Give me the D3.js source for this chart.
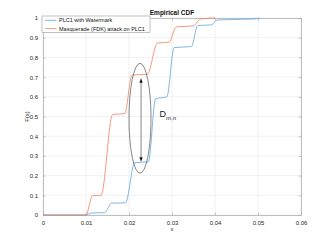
<!DOCTYPE html>
<html><head><meta charset="utf-8">
<script src="https://cdn.jsdelivr.net/npm/d3@7"></script>
<style>body{margin:0;background:#fff}svg{display:block;font-family:"Liberation Sans",Arial,sans-serif}</style>
</head><body><svg id="c" width="332" height="242"></svg>
<script>
const xTicks = [0, 0.01, 0.02, 0.03, 0.04, 0.05, 0.06];
const yTicks = [0, 0.1, 0.2, 0.3, 0.4, 0.5, 0.6, 0.7, 0.8, 0.9, 1];
const seriesNames = ["PLC1 with Watermark", "Masquerade (FDK) attack on PLC1"];
const blueX = [0, 0.0100, 0.0112, 0.0143, 0.0160, 0.0192, 0.0213, 0.0245, 0.0262, 0.0288, 0.0305, 0.0345, 0.0360, 0.0392, 0.0405, 0.0490, 0.0503];
const blueY = [0, 0, 0.010, 0.012, 0.060, 0.062, 0.265, 0.270, 0.590, 0.600, 0.850, 0.855, 0.962, 0.965, 0.990, 0.995, 1];
const orangeX = [0, 0.0100, 0.0115, 0.0135, 0.0162, 0.0190, 0.0207, 0.0243, 0.0266, 0.0293, 0.0310, 0.0350, 0.0366, 0.0400];
const orangeY = [0, 0, 0.098, 0.100, 0.510, 0.515, 0.710, 0.715, 0.873, 0.877, 0.955, 0.960, 0.995, 1];
const ellipse = {cx: 0.02256, cy: 0.491, rx: 0.00256, ry: 0.279};
const arrowX = 0.0228, arrowY = [0.27, 0.694];
const labelPos = [0.0271, 0.497];

const svg = d3.select("#c");
const L = 43, R = 301, T = 18, B = 215;
const x = d3.scaleLinear().domain([0, 0.06]).range([L, R]);
const y = d3.scaleLinear().domain([0, 1]).range([B, T]);

// grid
svg.append("g").selectAll("line").data(xTicks).join("line")
  .attr("x1", d => x(d)).attr("x2", d => x(d)).attr("y1", T).attr("y2", B)
  .attr("stroke", "#e8e8e8").attr("stroke-width", 0.6);
svg.append("g").selectAll("line").data(yTicks).join("line")
  .attr("y1", d => y(d)).attr("y2", d => y(d)).attr("x1", L).attr("x2", R)
  .attr("stroke", "#e8e8e8").attr("stroke-width", 0.6);

// axes
const fmt = d => d === 0 ? "0" : d === 1 ? "1" : String(d);
const ax = svg.append("g").attr("transform", `translate(0,${B})`)
  .call(d3.axisBottom(x).tickValues(xTicks).tickFormat(fmt).tickSizeInner(-2.5).tickSizeOuter(0).tickPadding(6));
const ay = svg.append("g").attr("transform", `translate(${L},0)`)
  .call(d3.axisLeft(y).tickValues(yTicks).tickFormat(fmt).tickSizeInner(-2.5).tickSizeOuter(0).tickPadding(5));
const at = svg.append("g").attr("transform", `translate(0,${T})`)
  .call(d3.axisTop(x).tickValues(xTicks).tickFormat("").tickSizeInner(-2.5).tickSizeOuter(0));
const ar = svg.append("g").attr("transform", `translate(${R},0)`)
  .call(d3.axisRight(y).tickValues(yTicks).tickFormat("").tickSizeInner(-2.5).tickSizeOuter(0));
[ax, ay, at, ar].forEach(g => {
  g.selectAll("path").attr("stroke", "#a6a6a6").attr("stroke-width", 0.7);
  g.selectAll("line").attr("stroke", "#a6a6a6").attr("stroke-width", 0.6);
  g.selectAll("text").attr("fill", "#262626").attr("font-size", 6).attr("font-family", "Liberation Sans, Arial, sans-serif");
});

// lines
const line = d3.line().x(d => x(d[0])).y(d => y(d[1])).curve(d3.curveMonotoneX);
const blue = blueX.map((v, i) => [v, blueY[i]]);
const orange = orangeX.map((v, i) => [v, orangeY[i]]);
svg.append("path").attr("d", line(blue)).attr("fill", "none").attr("stroke", "#5fa5dc").attr("stroke-width", 0.8);
svg.append("path").attr("d", line(orange)).attr("fill", "none").attr("stroke", "#f0825f").attr("stroke-width", 0.8);

// ellipse annotation
svg.append("ellipse")
  .attr("cx", x(ellipse.cx)).attr("cy", y(ellipse.cy))
  .attr("rx", x(ellipse.rx) - x(0)).attr("ry", y(0) - y(ellipse.ry))
  .attr("fill", "none").attr("stroke", "#555").attr("stroke-width", 0.7);

// arrow
const ax0 = x(arrowX), ya = y(arrowY[0]), yb = y(arrowY[1]);
svg.append("line").attr("x1", ax0).attr("x2", ax0).attr("y1", ya - 3).attr("y2", yb + 3)
  .attr("stroke", "#333").attr("stroke-width", 0.6);
svg.append("path").attr("d", `M${ax0},${yb} l-1.6,4.5 l3.2,0 Z`).attr("fill", "#111");
svg.append("path").attr("d", `M${ax0},${ya} l-1.6,-4.5 l3.2,0 Z`).attr("fill", "#111");

// D label
const lt = svg.append("text").attr("x", x(labelPos[0])).attr("y", y(labelPos[1]))
  .attr("font-size", 9).attr("fill", "#222");
lt.append("tspan").text("D");
lt.append("tspan").attr("dy", 3).attr("font-size", 6).text("m,n");

// title & labels
svg.append("text").attr("x", (L + R) / 2).attr("y", 15).attr("text-anchor", "middle")
  .attr("font-size", 6.5).attr("font-weight", "bold").attr("fill", "#111").text("Empirical CDF");
svg.append("text").attr("x", (L + R) / 2).attr("y", 231).attr("text-anchor", "middle")
  .attr("font-size", 6).attr("fill", "#262626").text("x");
svg.append("text").attr("transform", `translate(29,${(T + B) / 2}) rotate(-90)`).attr("text-anchor", "middle")
  .attr("font-size", 6).attr("fill", "#262626").text("F(x)");

// legend
const lg = svg.append("g");
lg.append("rect").attr("x", 42).attr("y", 16).attr("width", 108).attr("height", 16.5)
  .attr("fill", "#fff").attr("stroke", "#999").attr("stroke-width", 0.6);
const cols = ["#5fa5dc", "#f0825f"];
seriesNames.forEach((n, i) => {
  const yy = 20.3 + i * 8.3;
  lg.append("line").attr("x1", 45).attr("x2", 56.5).attr("y1", yy).attr("y2", yy)
    .attr("stroke", cols[i]).attr("stroke-width", 0.8);
  lg.append("text").attr("x", 59).attr("y", yy + 2).attr("font-size", 5.5).attr("fill", "#111").text(n);
});
</script></body></html>
